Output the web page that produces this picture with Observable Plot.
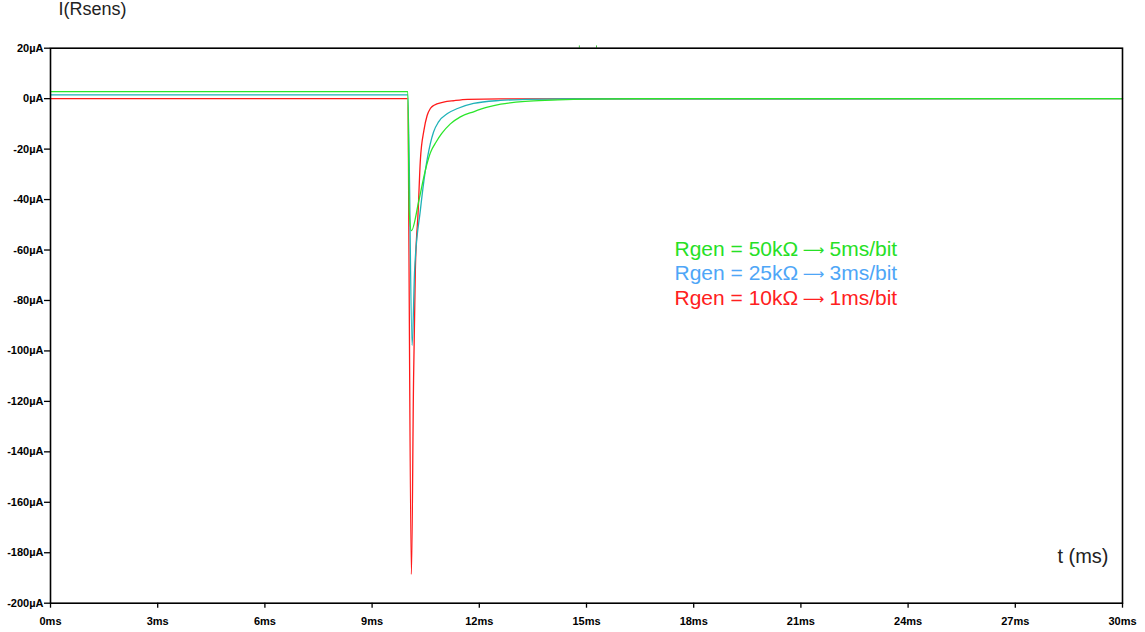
<!DOCTYPE html>
<html>
<head>
<meta charset="utf-8">
<script src="https://cdn.jsdelivr.net/npm/d3@7"></script>
<script src="https://cdn.jsdelivr.net/npm/@observablehq/plot@0.6"></script>
<style>
  html, body { margin: 0; padding: 0; background: #fff; }
  svg { display: block; }
</style>
</head>
<body>
<div id="chart"></div>
<script>
// ---- data (time in ms, current in µA) ----
const tRed   = [0, 9.99, 10.10, 10.16, 10.21, 10.29, 10.35, 10.45, 10.54, 10.63, 10.72, 11.0, 11.3, 11.67, 12.6, 30];
const iRed   = [0, 0, -188.6, -111.8, -68.2, -44.3, -24.5, -12.6, -6.7, -3.9, -2.7, -1.4, -0.8, -0.3, -0.1, 0];

const tCyan  = [0, 10.0, 10.12, 10.19, 10.35, 10.49, 10.63, 10.72, 10.86, 11.11, 11.39, 11.84, 12.59, 13.3, 14.3, 30];
const iCyan  = [1.5, 1.5, -97.8, -68.1, -44.3, -28.5, -17.8, -13.2, -9.2, -5.9, -3.9, -1.9, -0.7, -0.3, -0.1, 0];

const tGreen = [0, 10.0, 10.04, 10.10, 10.31, 10.49, 10.63, 10.80, 10.95, 11.19, 11.47, 11.84, 12.23, 12.6, 13.4, 14.2, 15.0, 17.0, 30];
const iGreen = [2.8, 2.8, -45, -52.3, -40.3, -28.4, -21.5, -17.0, -13.8, -10.0, -7.2, -5.2, -3.4, -2.2, -1.0, -0.5, -0.2, 0, 0];

const xTicks = [0, 3, 6, 9, 12, 15, 18, 21, 24, 27, 30];
const yTicks = [20, 0, -20, -40, -60, -80, -100, -120, -140, -160, -180, -200];

const legendLeft  = ["Rgen = 50kΩ", "Rgen = 25kΩ", "Rgen = 10kΩ"];
const legendRight = ["5ms/bit", "3ms/bit", "1ms/bit"];
const legendColors = ["#26e026", "#4ea6f7", "#ff2020"];
const traceColors = {red: "#ff1a1a", cyan: "#1fb2b8", green: "#2ae62a"};
const cursorMarks = [14.8, 15.28];

const toRows = (ts, is) => ts.map((t, k) => ({t, i: is[k]}));
const red = toRows(tRed, iRed);
const cyan = toRows(tCyan, iCyan);
const green = toRows(tGreen, iGreen);

const font = "'Liberation Sans', Arial, sans-serif";

const legendMarks = [];
legendLeft.forEach((lab, k) => {
  const y = 255 - 47.7 + k * 24.5; // baseline offset from frame top
  const common = {frameAnchor: "top-left", lineAnchor: "bottom", text: d => d, fontSize: 21, fill: legendColors[k]};
  legendMarks.push(Plot.text([lab], {...common, textAnchor: "start", dx: 624, dy: y}));
  legendMarks.push(Plot.text(["⟶"], {...common, textAnchor: "middle", dx: 763, dy: y - 1, fontFamily: "'DejaVu Sans'", fontSize: 15}));
  legendMarks.push(Plot.text([legendRight[k]], {...common, textAnchor: "start", dx: 779, dy: y}));
});

const chart = Plot.plot({
  width: 1145,
  height: 632,
  marginLeft: 50,
  marginRight: 23,
  marginTop: 47.7,
  marginBottom: 29.3,
  style: {fontFamily: font, background: "#fff", overflow: "visible"},
  x: {domain: [0, 30]},
  y: {domain: [-200, 20]},
  marks: [
    Plot.axisX({
      ticks: xTicks, tickFormat: d => d + "ms", tickSize: 5, tickPadding: 9,
      fontSize: 11, fontWeight: "bold", label: null, stroke: "black", strokeWidth: 1.3
    }),
    Plot.axisY({
      ticks: yTicks, tickFormat: d => d + "µA", tickSize: 6, tickPadding: 1,
      fontSize: 11, fontWeight: "bold", label: null, stroke: "black", strokeWidth: 1.3
    }),
    Plot.line(red, {x: "t", y: "i", stroke: traceColors.red, strokeWidth: 1.3, curve: "monotone-x"}),
    Plot.line(cyan, {x: "t", y: "i", stroke: traceColors.cyan, strokeWidth: 1.3, curve: "monotone-x"}),
    Plot.line(green, {x: "t", y: "i", stroke: traceColors.green, strokeWidth: 1.3, curve: "monotone-x"}),
    Plot.ruleX(cursorMarks, {x: d => d, y1: 20, y2: 20.9, stroke: "#3cc83c", strokeWidth: 1, clip: false}),
    Plot.frame({stroke: "black", strokeWidth: 1.6}),
    Plot.text(["I(Rsens)"], {
      frameAnchor: "top-left", text: d => d, textAnchor: "start",
      dx: 8, dy: -45.5, fontSize: 18, fill: "#222"
    }),
    ...legendMarks,
    Plot.text(["t (ms)"], {
      frameAnchor: "bottom-right", text: d => d, textAnchor: "end",
      dx: -14, dy: -40, fontSize: 20, fill: "#222"
    })
  ]
});

document.getElementById("chart").appendChild(chart);
</script>
</body>
</html>
